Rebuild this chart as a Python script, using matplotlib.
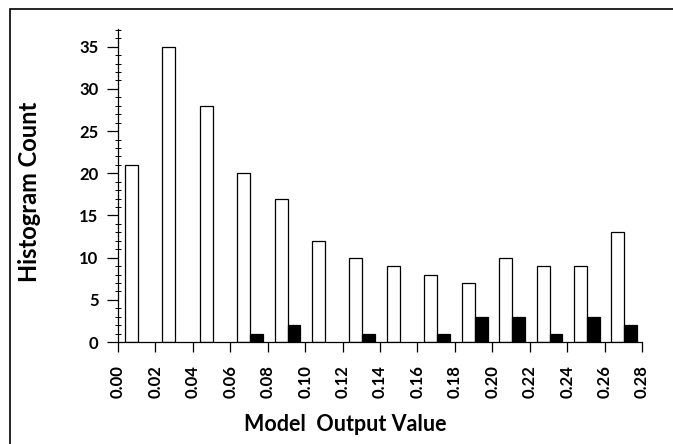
import matplotlib.pyplot as plt
from matplotlib.patches import Rectangle
from matplotlib.ticker import MultipleLocator
import numpy as np

# Histogram bins (left edges) and counts
bin_starts = [0.00, 0.02, 0.04, 0.06, 0.08, 0.10, 0.12,
              0.14, 0.16, 0.18, 0.20, 0.22, 0.24, 0.26]
white_counts = [21, 35, 28, 20, 17, 12, 10, 9, 8, 7, 10, 9, 9, 13]
black_counts = [0, 0, 0, 1, 2, 0, 1, 0, 1, 3, 3, 1, 3, 2]
x_ticks = [0.00, 0.02, 0.04, 0.06, 0.08, 0.10, 0.12, 0.14,
           0.16, 0.18, 0.20, 0.22, 0.24, 0.26, 0.28]

plt.rcParams["font.family"] = ["Lato", "DejaVu Sans"]

W, H = 673, 444
fig = plt.figure(figsize=(W / 100, H / 100), dpi=100)
ax = fig.add_axes([118 / W, 1 - 342 / H, (642 - 118) / W, (342 - 29) / H])

# Border round the figure (only left and top fall inside the picture)
fig.patches.append(Rectangle((10 / W, -0.1), 1.2, (H - 9) / H + 0.1,
                             transform=fig.transFigure, fill=False,
                             edgecolor="black", linewidth=1.2))

starts = np.array(bin_starts)
offset = 0.0037
bar_w = 0.0069
ax.bar(starts + offset, white_counts, width=bar_w, align="edge",
       color="white", edgecolor="black", linewidth=0.9)
nz = np.array(black_counts) > 0
ax.bar((starts + offset + bar_w)[nz], np.array(black_counts)[nz], width=bar_w,
       align="edge", color="black", edgecolor="black", linewidth=0.9)

ax.set_xlim(0, 0.28)
ax.set_ylim(0, 37.1)
ax.set_xticks(x_ticks)
ax.set_xticklabels([f"{t:.2f}" for t in x_ticks], rotation=90, fontsize=12,
                   fontweight="bold")
ax.set_yticks(range(0, 36, 5))
ax.set_yticklabels([str(v) for v in range(0, 36, 5)], fontsize=12,
                   fontweight="bold")
ax.yaxis.set_minor_locator(MultipleLocator(1))

ax.tick_params(axis="x", direction="out", length=7, width=0.9, pad=10)
ax.tick_params(axis="y", which="major", direction="out", length=8, width=0.9, pad=6)
ax.tick_params(axis="y", which="minor", direction="inout", length=5, width=0.7)

for side in ["top", "right"]:
    ax.spines[side].set_visible(False)
for side in ["left", "bottom"]:
    ax.spines[side].set_linewidth(0.9)

ax.set_xlabel("Model  Output Value", fontsize=15.5, fontweight="bold")
ax.xaxis.set_label_coords((345 - 118) / 524, (342 - 414) / 313)
ax.set_ylabel("Histogram Count", fontsize=17, fontweight="bold")
ax.yaxis.set_label_coords((41 - 118) / 524, (342 - 192) / 313)

fig.savefig("out.png", dpi=100)
